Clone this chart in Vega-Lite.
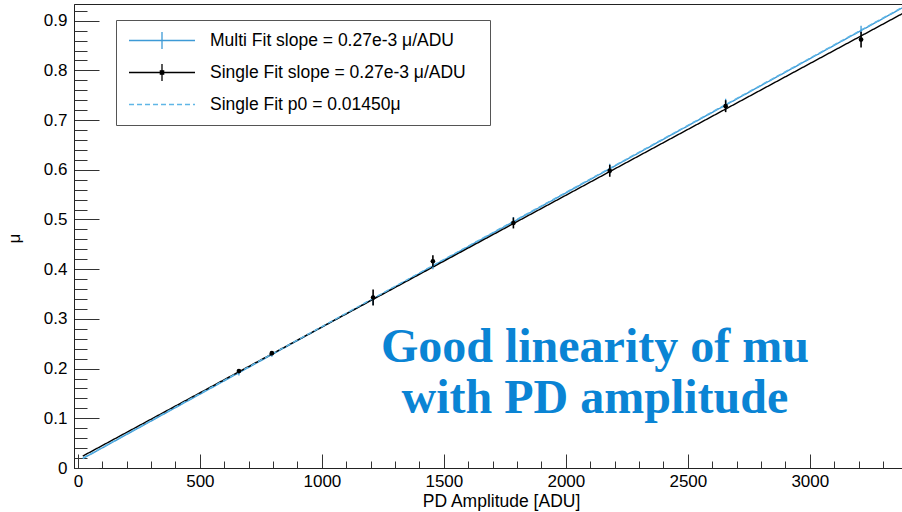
{
  "$schema": "https://vega.github.io/schema/vega-lite/v6.json",
  "width": 830,
  "height": 464,
  "autosize": {"type": "none"},
  "padding": {"left": 74, "top": 4, "right": 0, "bottom": 44},
  "background": "white",
  "config": {"view": {"stroke": "#222", "strokeWidth": 1}, "font": "Liberation Sans"},
  "resolve": {"axis": {"x": "independent", "y": "independent"}},
  "datasets": {
    "fits": [
      {"fit": "Multi Fit slope = 0.27e-3 μ/ADU", "x": 20, "y": 0.0189},
      {"fit": "Multi Fit slope = 0.27e-3 μ/ADU", "x": 3386, "y": 0.9277},
      {"fit": "Single Fit slope = 0.27e-3 μ/ADU", "x": 20, "y": 0.0240},
      {"fit": "Single Fit slope = 0.27e-3 μ/ADU", "x": 3386, "y": 0.9160},
      {"fit": "Single Fit p0 = 0.01450μ", "x": 20, "y": 0.0199},
      {"fit": "Single Fit p0 = 0.01450μ", "x": 3386, "y": 0.9287}
    ],
    "pts": [
      {"series": "multi", "x": 660, "y": 0.190, "lo": 0.186, "hi": 0.194},
      {"series": "multi", "x": 795, "y": 0.228, "lo": 0.224, "hi": 0.232},
      {"series": "multi", "x": 1210, "y": 0.338, "lo": 0.328, "hi": 0.348},
      {"series": "multi", "x": 1455, "y": 0.406, "lo": 0.400, "hi": 0.412},
      {"series": "multi", "x": 1785, "y": 0.497, "lo": 0.489, "hi": 0.505},
      {"series": "multi", "x": 2180, "y": 0.602, "lo": 0.592, "hi": 0.612},
      {"series": "multi", "x": 2655, "y": 0.733, "lo": 0.723, "hi": 0.743},
      {"series": "multi", "x": 3210, "y": 0.882, "lo": 0.874, "hi": 0.890},
      {"series": "single", "x": 660, "y": 0.195, "lo": 0.191, "hi": 0.199},
      {"series": "single", "x": 795, "y": 0.231, "lo": 0.227, "hi": 0.235},
      {"series": "single", "x": 1210, "y": 0.343, "lo": 0.327, "hi": 0.359},
      {"series": "single", "x": 1455, "y": 0.416, "lo": 0.405, "hi": 0.428},
      {"series": "single", "x": 1785, "y": 0.493, "lo": 0.482, "hi": 0.504},
      {"series": "single", "x": 2180, "y": 0.598, "lo": 0.586, "hi": 0.610},
      {"series": "single", "x": 2655, "y": 0.728, "lo": 0.716, "hi": 0.740},
      {"series": "single", "x": 3210, "y": 0.862, "lo": 0.846, "hi": 0.878}
    ],
    "notes": [
      {"x": 2119, "y": 0.2133, "t": "Good linearity of mu"},
      {"x": 2119, "y": 0.1107, "t": "with PD amplitude"}
    ]
  },
  "layer": [
    {
      "data": {"name": "fits"},
      "mark": {"type": "line", "clip": true, "strokeWidth": 1.4},
      "encoding": {
        "x": {
          "field": "x", "type": "quantitative",
          "scale": {"domain": [-16, 3386], "nice": false, "zero": false},
          "axis": {
            "orient": "bottom", "values": [0, 500, 1000, 1500, 2000, 2500, 3000], "format": "d",
            "tickSize": -14, "labelPadding": 19, "labelFontSize": 17, "labelFont": "Liberation Sans",
            "labelColor": "black", "tickColor": "#333", "domainColor": "#222", "grid": false,
            "labelFlush": false, "labelOverlap": false,
            "title": "PD Amplitude [ADU]", "titleFontSize": 17.5, "titleFontWeight": "normal",
            "titleFont": "Liberation Sans", "titleColor": "black",
            "titleX": 427, "titleY": 33, "titleBaseline": "middle", "titleAlign": "center"
          }
        },
        "y": {
          "field": "y", "type": "quantitative",
          "scale": {"domain": [0, 0.9336], "nice": false, "zero": false},
          "axis": {
            "orient": "left", "values": [0, 0.1, 0.2, 0.3, 0.4, 0.5, 0.6, 0.7, 0.8, 0.9], "format": "~g",
            "tickSize": -25, "labelPadding": 32, "labelFontSize": 17, "labelFont": "Liberation Sans",
            "labelColor": "black", "tickColor": "#333", "domainColor": "#222", "grid": false,
            "labelFlush": false, "labelOverlap": false,
            "title": "μ", "titleFontSize": 17, "titleFontWeight": "normal", "titleFont": "Liberation Sans",
            "titleColor": "black", "titleX": -60, "titleY": 234, "titleAngle": -90,
            "titleBaseline": "middle", "titleAlign": "center"
          }
        },
        "color": {
          "field": "fit", "type": "nominal",
          "scale": {
            "domain": ["Multi Fit slope = 0.27e-3 μ/ADU", "Single Fit slope = 0.27e-3 μ/ADU", "Single Fit p0 = 0.01450μ"],
            "range": ["#3d9ad6", "#000000", "#5fb6e6"]
          },
          "legend": {
            "title": " ", "titleOrient": "right", "titlePadding": 12, "titleFontSize": 10,
            "orient": "none", "legendX": 42, "legendY": 16,
            "symbolType": "M-1,0H1M0,-0.26V0.26", "symbolSize": 4356, "symbolStrokeWidth": 1.3,
            "labelFontSize": 17.5, "labelFont": "Liberation Sans", "labelColor": "black",
            "labelOffset": 14, "clipHeight": 17, "rowPadding": 14, "padding": 12,
            "strokeColor": "#555", "fillColor": "white", "labelLimit": 400,
            "encode": {
              "symbols": {
                "update": {
                  "shape": {"signal": "indexof(datum.value, 'p0') >= 0 ? 'stroke' : (indexof(datum.value, 'Single') >= 0 ? 'M-1,0H1M0,-0.26V0.26M-0.05,-0.05H0.05V0.05H-0.05Z' : 'M-1,0H1M0,-0.26V0.26')"},
                  "strokeDash": {"signal": "indexof(datum.value, 'p0') >= 0 ? [5, 3] : [1, 0]"},
                  "fill": {"signal": "indexof(datum.value, 'Single Fit slope') >= 0 ? 'black' : 'transparent'"}
                }
              }
            }
          }
        },
        "strokeDash": {
          "field": "fit", "type": "nominal",
          "scale": {
            "domain": ["Multi Fit slope = 0.27e-3 μ/ADU", "Single Fit slope = 0.27e-3 μ/ADU", "Single Fit p0 = 0.01450μ"],
            "range": [[1, 0], [1, 0], [5, 3]]
          },
          "legend": null
        }
      }
    },
    {
      "data": {"name": "pts"},
      "transform": [{"filter": "datum.series == 'multi'"}],
      "mark": {"type": "rule", "color": "#3d9ad6", "strokeWidth": 1.3},
      "encoding": {
        "x": {
          "field": "x", "type": "quantitative",
          "axis": {
            "orient": "bottom",
            "values": [100, 200, 300, 400, 600, 700, 800, 900, 1100, 1200, 1300, 1400, 1600, 1700, 1800, 1900, 2100, 2200, 2300, 2400, 2600, 2700, 2800, 2900, 3100, 3200, 3300],
            "tickSize": -7, "labels": false, "domain": false, "grid": false, "title": null, "tickColor": "#333"
          }
        },
        "y": {
          "field": "lo", "type": "quantitative",
          "axis": {
            "orient": "left",
            "values": [0.02, 0.04, 0.06, 0.08, 0.12, 0.14, 0.16, 0.18, 0.22, 0.24, 0.26, 0.28, 0.32, 0.34, 0.36, 0.38, 0.42, 0.44, 0.46, 0.48, 0.52, 0.54, 0.56, 0.58, 0.62, 0.64, 0.66, 0.68, 0.72, 0.74, 0.76, 0.78, 0.82, 0.84, 0.86, 0.88, 0.92],
            "tickSize": -13, "labels": false, "domain": false, "grid": false, "title": null, "tickColor": "#333"
          }
        },
        "y2": {"field": "hi"}
      }
    },
    {
      "data": {"name": "pts"},
      "transform": [{"filter": "datum.series == 'single'"}],
      "mark": {"type": "rule", "color": "#000000", "strokeWidth": 1.6},
      "encoding": {
        "x": {"field": "x", "type": "quantitative", "axis": null},
        "y": {"field": "lo", "type": "quantitative", "axis": null},
        "y2": {"field": "hi"}
      }
    },
    {
      "data": {"name": "pts"},
      "transform": [{"filter": "datum.series == 'single'"}],
      "mark": {"type": "point", "shape": "circle", "filled": true, "color": "#000000", "size": 22, "opacity": 1},
      "encoding": {
        "x": {"field": "x", "type": "quantitative", "axis": null},
        "y": {"field": "y", "type": "quantitative", "axis": null}
      }
    },
    {
      "data": {"name": "notes"},
      "mark": {"type": "text", "font": "Liberation Serif", "fontWeight": "bold", "fontSize": 48, "color": "#0a84d4", "align": "center", "baseline": "alphabetic"},
      "encoding": {
        "x": {"field": "x", "type": "quantitative", "axis": null},
        "y": {"field": "y", "type": "quantitative", "axis": null},
        "text": {"field": "t"}
      }
    }
  ]
}
